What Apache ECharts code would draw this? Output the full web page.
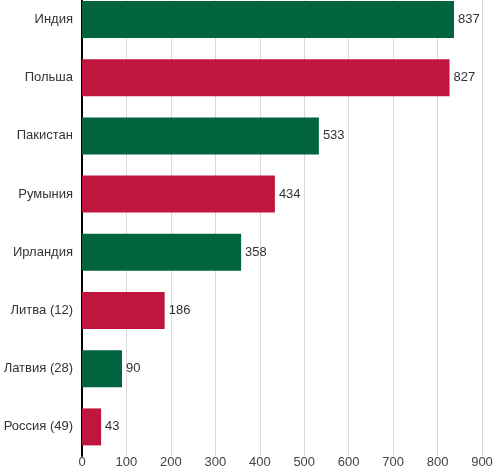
<!DOCTYPE html>
<html>
<head>
<meta charset="utf-8">
<script src="https://cdn.jsdelivr.net/npm/echarts@6/dist/echarts.min.js"></script>
<style>
  html, body { margin: 0; padding: 0; background: #fff; }
  #chartBar { width: 500px; height: 473px; }
</style>
</head>
<body>
<div id="chartBar"></div>
<script>
// данные
var categories = ["Индия", "Польша", "Пакистан", "Румыния", "Ирландия", "Литва (12)", "Латвия (28)", "Россия (49)"];
var values = [837, 827, 533, 434, 358, 186, 90, 43];
var xTicks = [0, 100, 200, 300, 400, 500, 600, 700, 800, 900];

var green = "#02633f";
var red = "#c0163d";

var chartBar = echarts.init(document.getElementById("chartBar"));

var option = {
  animation: false,
  grid: {
    left: 82,
    width: 400,
    top: -9.6,
    height: 465.6,
    outerBoundsMode: "none",
    containLabel: false,
  },
  xAxis: {
    type: "value",
    min: xTicks[0],
    max: xTicks[xTicks.length - 1],
    interval: 100,
    axisLine: { show: false },
    axisTick: { show: false },
    splitLine: { lineStyle: { color: "#d9d9d9", width: 1 } },
    axisLabel: {
      color: "#444",
      fontSize: 13,
      fontFamily: "Liberation Sans, Arial, sans-serif",
      margin: 0,
    },
  },
  yAxis: {
    type: "category",
    inverse: true,
    data: categories,
    axisLine: { lineStyle: { color: "#000", width: 2 } },
    axisTick: { show: false },
    axisLabel: {
      color: "#333",
      fontSize: 13,
      fontFamily: "Liberation Sans, Arial, sans-serif",
      margin: 9,
    },
  },
  series: [
    {
      type: "bar",
      barWidth: 37,
      data: values.map(function (v, i) {
        return {
          value: v,
          itemStyle: { color: i % 2 === 0 ? green : red },
        };
      }),
      label: {
        show: true,
        position: "right",
        distance: 4,
        color: "#333",
        fontSize: 13,
        fontFamily: "Liberation Sans, Arial, sans-serif",
      },
    },
  ],
};

chartBar.setOption(option);
</script>
</body>
</html>
